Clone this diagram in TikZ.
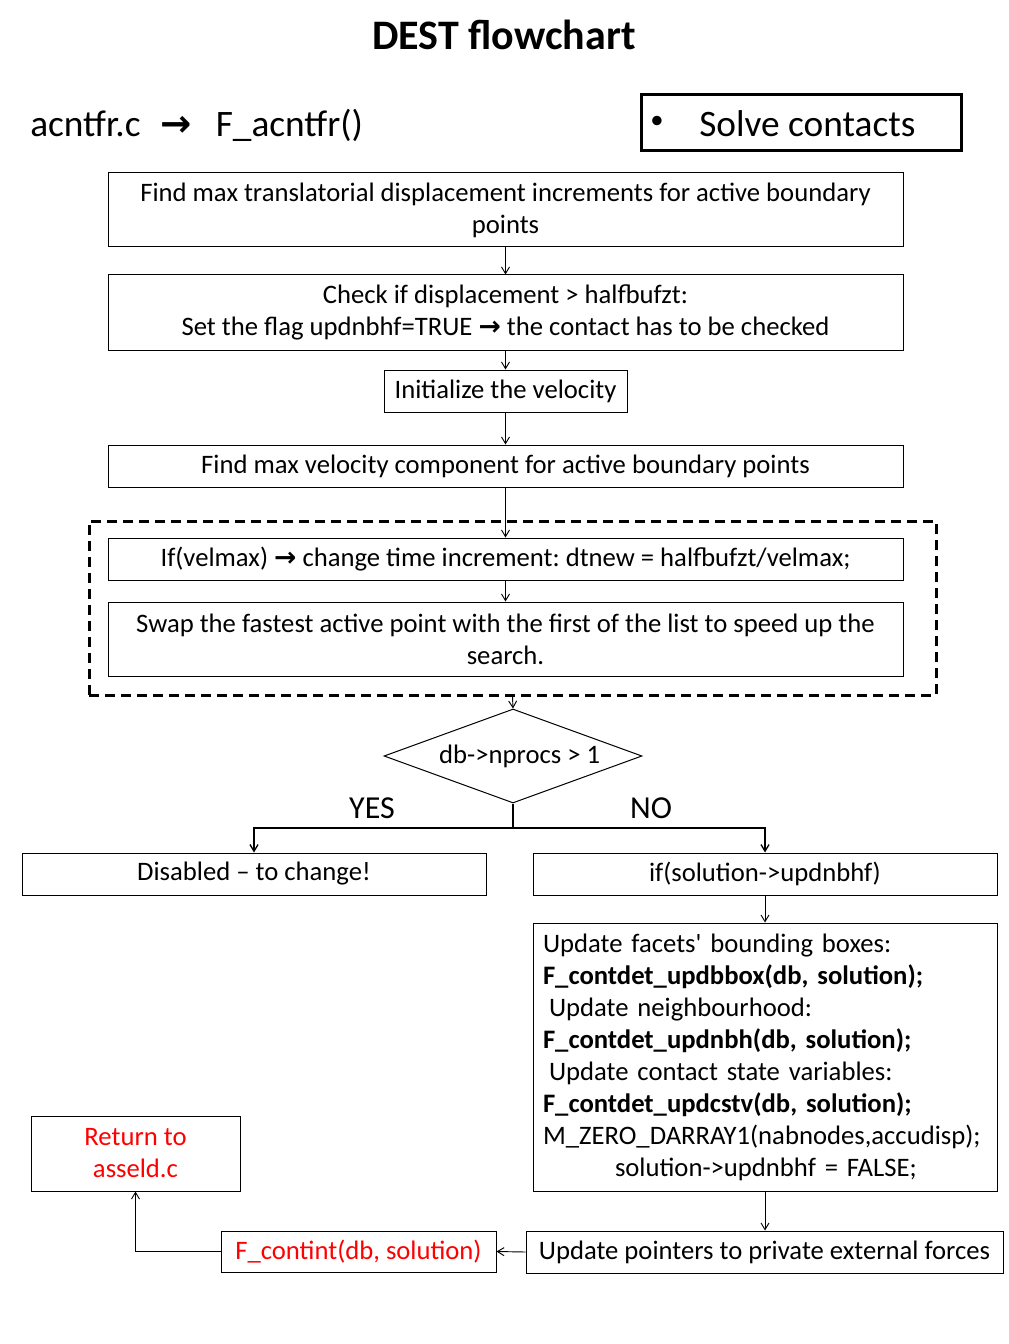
\documentclass[tikz,border=0pt]{standalone}
\usepackage{fontspec}
\setmainfont{Carlito}
\newfontfamily\carl{Carlito}
\newfontfamily\djv{DejaVu Sans}
\usetikzlibrary{arrows.meta,shapes.geometric}
\newcommand{\rarr}{{\djv\bfseries →}}
\frenchspacing
\begin{document}
\begin{tikzpicture}[x=0.75pt,y=-0.75pt,
  font=\fontsize{20}{24}\selectfont,
  box/.style 2 args={draw, line width=0.75pt, minimum width=#1*0.75pt, minimum height=#2*0.75pt, inner sep=0pt, align=center},
  link/.style={-{Straight Barb[length=5pt,width=6pt]}, line width=0.7pt},
  big/.style={font=\fontsize{28}{32}\selectfont},
]
\useasboundingbox (0,0) rectangle (1008,1344);

\node[font=\fontsize{31.5}{36}\selectfont\bfseries] (title) at (504,35) {DEST flowchart};
\node[big, anchor=west, inner sep=0pt] (head) at (30,125) {acntfr.c\hspace{15pt}{\djv\bfseries →}\hspace{18pt}F\_acntfr()};

\node[box={320}{56}, line width=2.25pt] (solve) at (801,123) {};
\node[font=\fontsize{20}{24}\selectfont, inner sep=0pt] (bullet) at (657,122) {•};
\node[big, anchor=west, inner sep=0pt] (solvet) at (699,124) {Solve contacts};

\node[box={795}{74}] (b1) at (505.5,210) {Find max translatorial displacement increments for active boundary\\points};
\node[box={795}{75}] (b2) at (505.5,312.5) {Check if displacement > halfbufzt:\\Set the flag updnbhf=TRUE \rarr{} the contact has to be checked};
\node[box={243}{42}] (b3) at (505.5,391) {Initialize the velocity};
\node[box={795}{42}] (b4) at (505.5,466) {Find max velocity component for active boundary points};

\node[draw, line width=2.25pt, dash pattern=on 7.5pt off 4.5pt, minimum width=847*0.75pt, minimum height=174*0.75pt, inner sep=0pt] (grp) at (512.5,608) {};
\node[box={795}{42}] (b5) at (505.5,559) {If(velmax) \rarr{} change time increment: dtnew = halfbufzt/velmax;};
\node[box={795}{74}] (b6) at (505.5,639) {Swap the fastest active point with the first of the list to speed up the\\search.};

\node[diamond, draw, line width=0.75pt, minimum width=258*0.75pt, minimum height=94*0.75pt, inner sep=0pt, aspect=2.74] (dec) at (513,756) {\hspace*{10pt}db->nprocs > 1};
\node[font=\fontsize{24}{28}\selectfont] (yes) at (372,808) {YES};
\node[font=\fontsize{24}{28}\selectfont] (no) at (651,808) {NO};
\coordinate (split) at (513,828);

\node[box={464}{42}] (dis) at (254,874) {Disabled – to change!};
\node[box={464}{42}] (ifs) at (765,874) {if(solution->updnbhf)};
\node[box={464}{268}, align=left, text width=444*0.75pt, inner xsep=10*0.75pt] (upd) at (765,1057) {Update facets{\carl'} bounding boxes:\\
\textbf{F\_contdet\_updbbox(db, solution);}\\
\hspace*{4.5pt}Update neighbourhood:\\
\textbf{F\_contdet\_updnbh(db, solution);}\\
\hspace*{4.5pt}Update contact state variables:\\
\textbf{F\_contdet\_updcstv(db, solution);}\\
M\_ZERO\_DARRAY1(nabnodes,accudisp);\\
\hspace*{54pt}solution->updnbhf = FALSE;};

\node[box={477}{42}] (ptr) at (764.5,1252) {Update pointers to private external forces};
\node[box={275}{41}, text=red] (cint) at (358.5,1251.5) {F\_contint(db, solution)};
\node[box={209}{75}, text=red] (ret) at (135.5,1153.5) {Return to\\asseld.c};

\draw[link] (b1.south) -- (b2.north);
\draw[link] (b2.south) -- (b3.north);
\draw[link] (b3.south) -- (b4.north);
\draw[link] (b4.south) -- (b5.north);
\draw[link] (b5.south) -- (b6.north);
\draw[link] (grp.south) -- (dec.north);
\draw[line width=1pt] (dec.south) -- (split);
\draw[link, line width=1pt] (split) -| (dis.north);
\draw[link, line width=1pt] (split) -| (ifs.north);
\draw[link] (ifs.south) -- (upd.north);
\draw[link] (upd.south) -- (upd.south |- ptr.north);
\draw[link] (ptr.west) -- (cint.east);
\draw[link] (cint.west) -| (ret.south);
\end{tikzpicture}
\end{document}
